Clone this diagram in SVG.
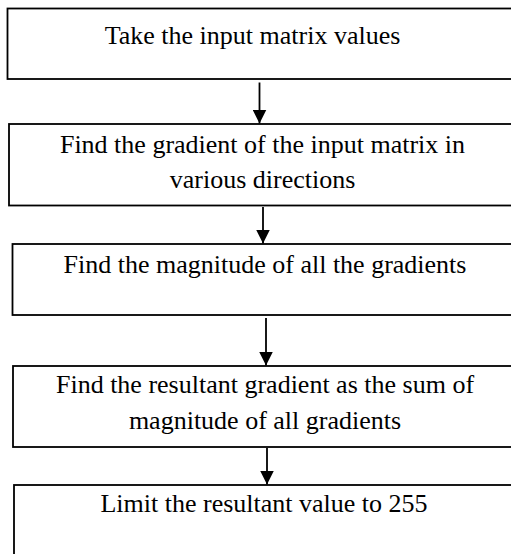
<svg xmlns="http://www.w3.org/2000/svg" width="511" height="554" viewBox="0 0 511 554">
<style>
.box{fill:#fff;stroke:#000;stroke-width:1.8}
.t{font-family:"Liberation Serif","Times New Roman",serif;font-size:26px;fill:#000;text-anchor:middle}
.c{stroke:#000;stroke-width:1.8;fill:none}
</style>
<defs>
<marker id="ah" markerUnits="userSpaceOnUse" markerWidth="15" markerHeight="14" refX="14" refY="7" orient="auto" viewBox="0 0 15 14">
<path d="M0,0 L14,7 L0,14 Z" fill="#000"/>
</marker>
</defs>
<rect width="511" height="554" fill="#fff"/>
<g id="n1"><rect class="box" x="7.5" y="8.5" width="530" height="70.5"/><text class="t" x="252.5" y="44">Take the input matrix values</text></g>
<g id="n2"><rect class="box" x="9" y="124" width="530" height="81.5"/><text class="t" x="262.5" y="153">Find the gradient of the input matrix in</text><text class="t" x="262.5" y="188">various directions</text></g>
<g id="n3"><rect class="box" x="12.5" y="244" width="530" height="71"/><text class="t" x="265" y="273">Find the magnitude of all the gradients</text></g>
<g id="n4"><rect class="box" x="13" y="366" width="530" height="81"/><text class="t" x="265" y="393">Find the resultant gradient as the sum of</text><text class="t" x="265" y="429">magnitude of all gradients</text></g>
<g id="n5"><rect class="box" x="14" y="485" width="530" height="100"/><text class="t" x="264" y="512">Limit the resultant value to 255</text></g>
<g id="connectors">
<path class="c" d="M259.5,82.5 V123.5" marker-end="url(#ah)"/>
<path class="c" d="M263,207 V243.5" marker-end="url(#ah)"/>
<path class="c" d="M266,318 V365.5" marker-end="url(#ah)"/>
<path class="c" d="M267,448 V484.5" marker-end="url(#ah)"/>
</g>
</svg>
